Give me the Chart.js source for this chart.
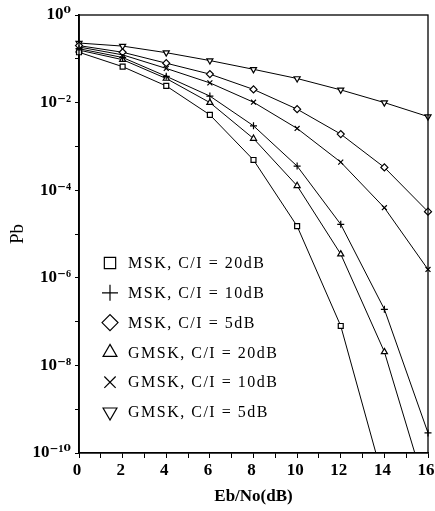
<!DOCTYPE html>
<html>
<head>
<meta charset="utf-8">
<script src="https://cdn.jsdelivr.net/npm/chart.js@4.4.1/dist/chart.umd.min.js"></script>
<style>
  html, body { margin: 0; padding: 0; background: #fff; }
  #wrap { width: 435px; height: 511px; position: relative; }
</style>
</head>
<body>
<div id="wrap"><canvas id="ber"></canvas></div>
<script>
// Eb/No (dB) sample points
const EBNO = [0, 2, 4, 6, 8, 10, 12, 14, 16];

// bit error probability
const MSK_20  = [0.141, 0.0661, 0.024, 0.00525, 4.9e-4, 1.51e-5, 7.94e-8, 2e-11];
const MSK_10  = [0.17, 0.107, 0.0398, 0.0141, 0.00295, 3.55e-4, 1.66e-5, 1.91e-7, 2.88e-10];
const MSK_5   = [0.2, 0.141, 0.0794, 0.0447, 0.02, 0.00708, 0.00191, 3.31e-4, 3.24e-5];
const GMSK_20 = [0.158, 0.0955, 0.0355, 0.01, 0.00151, 1.26e-4, 3.47e-6, 2.04e-8, 1e-11];
const GMSK_10 = [0.186, 0.123, 0.0603, 0.0282, 0.0102, 0.00257, 4.37e-4, 3.98e-5, 1.55e-6];
const GMSK_5  = [0.229, 0.195, 0.138, 0.0912, 0.0575, 0.0355, 0.0195, 0.01, 0.00479];

const SERIES_LABELS = [
  'MSK, C/I = 20dB', 'MSK, C/I = 10dB', 'MSK, C/I = 5dB',
  'GMSK, C/I = 20dB', 'GMSK, C/I = 10dB', 'GMSK, C/I = 5dB',
];
const SERIES_VALUES = [MSK_20, MSK_10, MSK_5, GMSK_20, GMSK_10, GMSK_5];
const SERIES_MARKERS = [
  { style: 'rect', rot: 0 },
  { style: 'cross', rot: 0 },
  { style: 'rectRot', rot: 0 },
  { style: 'triangle', rot: 0 },
  { style: 'crossRot', rot: 0 },
  { style: 'triangle', rot: 180 },
];

const Y_TICKS  = [1, 1e-1, 1e-2, 1e-3, 1e-4, 1e-5, 1e-6, 1e-7, 1e-8, 1e-9, 1e-10];
const Y_LABELS = ['10⁰', '', '10⁻²', '', '10⁻⁴', '', '10⁻⁶', '', '10⁻⁸', '', '10⁻¹⁰'];
const X_TICKS  = [0, 1, 2, 3, 4, 5, 6, 7, 8, 9, 10, 11, 12, 13, 14, 15, 16];
const X_LABELS = ['0', '', '2', '', '4', '', '6', '', '8', '', '10', '', '12', '', '14', '', '16'];

const SERIF = "'Liberation Serif', 'DejaVu Serif', serif";

const frame = {
  id: 'frame',
  afterDatasetsDraw(chart) {
    const { ctx, chartArea: { left, top, right, bottom } } = chart;
    ctx.save();
    ctx.strokeStyle = '#000';
    ctx.lineWidth = 1.3;
    ctx.strokeRect(left, top, right - left, bottom - top);
    ctx.restore();
  },
};

const boxLegend = {
  id: 'boxLegend',
  afterDraw(chart) {
    const { ctx, chartArea: { left, top } } = chart;
    ctx.save();
    ctx.font = '16px ' + SERIF;
    ctx.letterSpacing = '1.5px';
    ctx.textBaseline = 'middle';
    SERIES_LABELS.forEach((label, i) => {
      const y = top + 248 + i * 29.8;
      const m = SERIES_MARKERS[i];
      ctx.fillStyle = '#fff';
      ctx.strokeStyle = '#000';
      ctx.lineWidth = 1.2;
      Chart.helpers.drawPoint(ctx, {
        pointStyle: m.style, rotation: m.rot, radius: 8, borderWidth: 1.2,
      }, left + 31, y);
      ctx.fillStyle = '#000';
      ctx.fillText(label, left + 49, y + 1);
    });
    ctx.restore();
  },
};

new Chart(document.getElementById('ber').getContext('2d'), {
  type: 'line',
  plugins: [frame, boxLegend],
  data: {
    datasets: SERIES_VALUES.map((vals, i) => ({
      label: SERIES_LABELS[i],
      data: vals.map((v, j) => ({ x: EBNO[j], y: v })),
      borderColor: '#000',
      borderWidth: 1,
      backgroundColor: '#fff',
      pointStyle: SERIES_MARKERS[i].style,
      rotation: SERIES_MARKERS[i].rot,
      pointRadius: 3.5,
      pointBorderWidth: 1.2,
      pointBorderColor: '#000',
      pointBackgroundColor: '#fff',
      tension: 0,
      clip: { left: 8, right: 8, top: 8, bottom: 0 },
    })),
  },
  options: {
    responsive: true,
    maintainAspectRatio: false,
    animation: false,
    layout: { padding: { top: 15, right: 7, left: 0, bottom: 0 } },
    plugins: {
      legend: { display: false },
      tooltip: { enabled: false },
    },
    scales: {
      x: {
        type: 'linear',
        min: 0,
        max: 16,
        afterBuildTicks: s => { s.ticks = X_TICKS.map(v => ({ value: v })); },
        afterFit: s => { s.height = 58; s.paddingRight = 0; },
        grid: { drawOnChartArea: false, tickLength: 5, color: '#000', lineWidth: 1 },
        border: { color: '#000', width: 1.3 },
        ticks: {
          autoSkip: false,
          maxRotation: 0,
          padding: 2,
          labelOffset: -2,
          color: '#000',
          font: { family: SERIF, size: 17, weight: 'bold' },
          callback: (v, i) => X_LABELS[i],
        },
        title: {
          display: true,
          text: 'Eb/No(dB)',
          color: '#000',
          font: { family: SERIF, size: 17, weight: 'bold' },
          padding: { top: 2, bottom: 4 },
        },
      },
      y: {
        type: 'logarithmic',
        min: 1e-10,
        max: 1,
        afterBuildTicks: s => { s.ticks = Y_TICKS.map(v => ({ value: v })); },
        afterFit: s => { s.width = 79; },
        grid: { drawOnChartArea: false, tickLength: 4, color: '#000', lineWidth: 1 },
        border: { color: '#000', width: 1.8 },
        ticks: {
          autoSkip: false,
          padding: 4,
          color: '#000',
          font: { family: SERIF, size: 17, weight: 'bold' },
          callback: (v, i) => Y_LABELS[i],
        },
        title: {
          display: true,
          text: 'Pb',
          color: '#000',
          font: { family: SERIF, size: 19 },
          padding: { top: 7, bottom: 0 },
        },
      },
    },
  },
});
</script>
</body>
</html>
